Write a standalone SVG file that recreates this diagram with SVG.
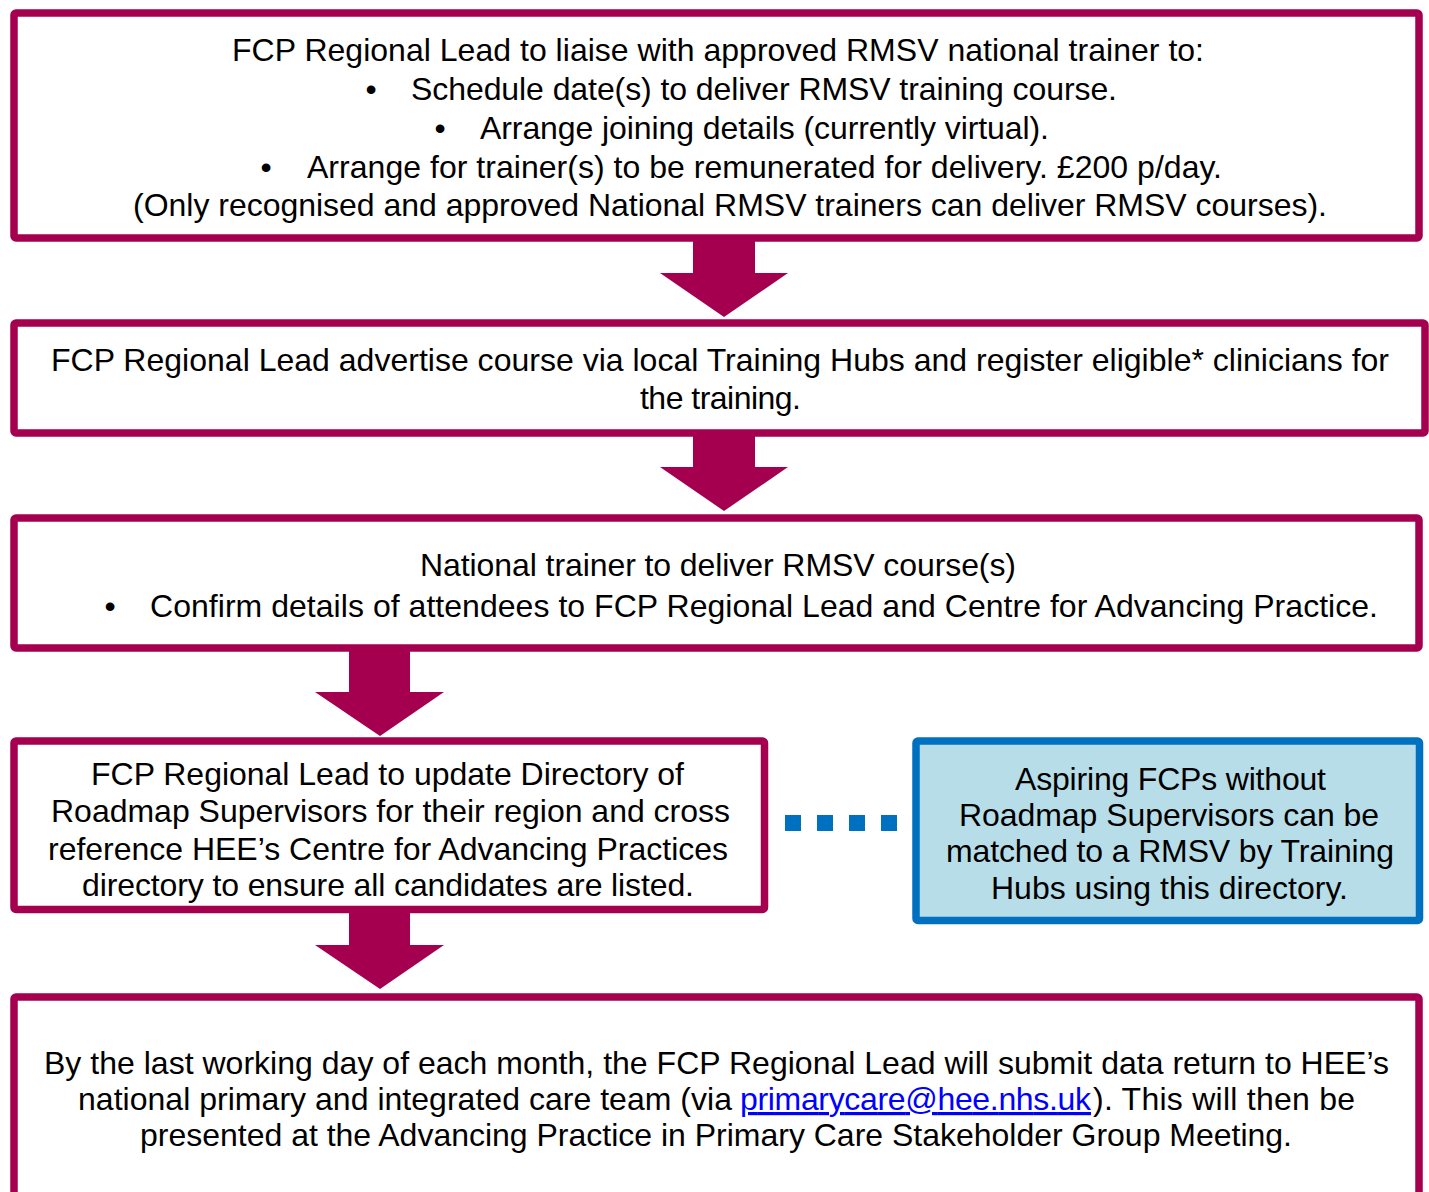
<svg xmlns="http://www.w3.org/2000/svg" width="1429" height="1192" viewBox="0 0 1429 1192">
<style>
.box{fill:#FFFFFF;stroke:#A50050;stroke-width:7.5;}
.blue{fill:#B7DDE8;stroke:#0070C0;stroke-width:7.5;}
.arrow{fill:#A50050;}
text{font-family:"Liberation Sans",Arial,sans-serif;font-size:32px;fill:#000000;}
.link{fill:#0000FF;text-decoration:underline;}
.bul{text-anchor:middle;}
</style>
<rect width="1429" height="1192" fill="#FFFFFF"/>
<g id="connectors">
<polygon class="arrow" points="693,237 755,237 755,273 788,273 724,317 660,273 693,273"/>
<polygon class="arrow" points="693,433 755,433 755,467 788,467 724,511 660,467 693,467"/>
<polygon class="arrow" points="349,648 410,648 410,692 444,692 380,736 315,692 349,692"/>
<polygon class="arrow" points="349,909 410,909 410,945 444,945 380,989 315,945 349,945"/>
<line x1="785" y1="823" x2="897" y2="823" stroke="#0070C0" stroke-width="16" stroke-dasharray="16 16"/>
</g>
<g id="node1">
<rect class="box" x="14" y="13" width="1405" height="225" rx="2"/>
<text x="232" y="61" textLength="972" lengthAdjust="spacing">FCP Regional Lead to liaise with approved RMSV national trainer to:</text>
<text class="bul" x="371" y="100">•</text>
<text x="411" y="100" textLength="706" lengthAdjust="spacing">Schedule date(s) to deliver RMSV training course.</text>
<text class="bul" x="440" y="139">•</text>
<text x="480" y="139" textLength="569" lengthAdjust="spacing">Arrange joining details (currently virtual).</text>
<text class="bul" x="266" y="178">•</text>
<text x="307" y="178" textLength="915" lengthAdjust="spacing">Arrange for trainer(s) to be remunerated for delivery. £200 p/day.</text>
<text x="133" y="216" textLength="1194" lengthAdjust="spacing">(Only recognised and approved National RMSV trainers can deliver RMSV courses).</text>
</g>
<g id="node2">
<rect class="box" x="14" y="323" width="1411" height="110" rx="2"/>
<text x="51" y="371" textLength="1338" lengthAdjust="spacing">FCP Regional Lead advertise course via local Training Hubs and register eligible* clinicians for</text>
<text x="640" y="409" textLength="161" lengthAdjust="spacing">the training.</text>
</g>
<g id="node3">
<rect class="box" x="14" y="518" width="1405" height="130" rx="2"/>
<text x="420" y="576" textLength="596" lengthAdjust="spacing">National trainer to deliver RMSV course(s)</text>
<text class="bul" x="110" y="617">•</text>
<text x="150" y="617" textLength="1228" lengthAdjust="spacing">Confirm details of attendees to FCP Regional Lead and Centre for Advancing Practice.</text>
</g>
<g id="node4">
<rect class="box" x="14" y="741" width="750.5" height="168.5" rx="2"/>
<text x="91" y="785" textLength="593" lengthAdjust="spacing">FCP Regional Lead to update Directory of</text>
<text x="51" y="822" textLength="679" lengthAdjust="spacing">Roadmap Supervisors for their region and cross</text>
<text x="48" y="860" textLength="680" lengthAdjust="spacing">reference HEE’s Centre for Advancing Practices</text>
<text x="82" y="896" textLength="612" lengthAdjust="spacing">directory to ensure all candidates are listed.</text>
</g>
<g id="node5">
<rect class="blue" x="916" y="741" width="503.5" height="179.5" rx="2"/>
<text x="1015" y="790" textLength="311" lengthAdjust="spacing">Aspiring FCPs without</text>
<text x="959" y="826" textLength="420" lengthAdjust="spacing">Roadmap Supervisors can be</text>
<text x="946" y="862" textLength="448" lengthAdjust="spacing">matched to a RMSV by Training</text>
<text x="991" y="899" textLength="357" lengthAdjust="spacing">Hubs using this directory.</text>
</g>
<g id="node6">
<rect class="box" x="14" y="997" width="1405" height="230" rx="2"/>
<text x="44" y="1074" textLength="1345" lengthAdjust="spacing">By the last working day of each month, the FCP Regional Lead will submit data return to HEE’s</text>
<text x="78" y="1110" textLength="654" lengthAdjust="spacing">national primary and integrated care team (via</text>
<text class="link" x="740" y="1110" textLength="351" lengthAdjust="spacing">primarycare@hee.nhs.uk</text>
<text x="1093" y="1110" textLength="262" lengthAdjust="spacing">). This will then be</text>
<text x="140" y="1146" textLength="1152" lengthAdjust="spacing">presented at the Advancing Practice in Primary Care Stakeholder Group Meeting.</text>
</g>
</svg>
